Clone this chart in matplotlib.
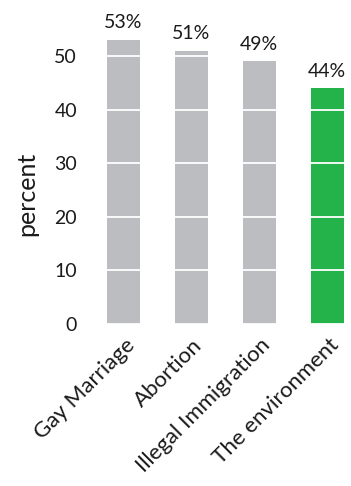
import matplotlib
matplotlib.use("Agg")
import matplotlib.pyplot as plt
from matplotlib.transforms import ScaledTranslation

plt.rcParams['font.family'] = ['Lato', 'DejaVu Sans']

categories = ["Gay Marriage", "Abortion", "Illegal Immigration", "The environment"]
values = [53, 51, 49, 44]
colors = ["#BCBDC0", "#BCBDC0", "#BCBDC0", "#24B24B"]
yticks = [0, 10, 20, 30, 40, 50]

fig = plt.figure(figsize=(3.51, 4.86), dpi=100)
ax = fig.add_axes([0.2356, 0.3333, 0.7644, 0.662])

x = list(range(len(categories)))
ax.bar(x, values, width=0.485, color=colors, zorder=1)

ax.set_xlim(-0.6, 3.35)
ax.set_ylim(0, 60)
ax.set_yticks(yticks)
ax.set_yticklabels([str(t) for t in yticks], fontsize=14, color="#1a1a1a")
ax.yaxis.grid(True, color="white", linewidth=1.3, zorder=2)
ax.set_axisbelow(False)
ax.tick_params(axis="y", length=0, pad=4)
ax.tick_params(axis="x", length=0, pad=8)
for s in ax.spines.values():
    s.set_visible(False)

ax.set_ylabel("percent", fontsize=18, color="#1a1a1a")
ax.yaxis.set_label_coords(-0.165, 0.405)

ax.set_xticks(x)
ax.set_xticklabels(categories, rotation=45, ha="right", rotation_mode="anchor",
                   fontsize=16, color="#1a1a1a")
offset = ScaledTranslation(1 / 100, 0, fig.dpi_scale_trans)
for lbl in ax.get_xticklabels():
    lbl.set_transform(lbl.get_transform() + offset)

for xi, v in zip(x, values):
    ax.annotate(f"{v}%", (xi, v), xytext=(0, 6), textcoords="offset points",
                ha="center", va="bottom", fontsize=14, color="#1a1a1a")

fig.savefig("out.png", dpi=100)
